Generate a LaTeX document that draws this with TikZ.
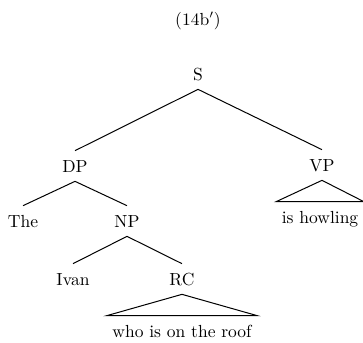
\documentclass[tikz,border=0pt]{standalone}
\usepackage{tikz}
\usetikzlibrary{positioning}

\begin{document}
\begin{tikzpicture}[
	x=0.6pt, y=-0.6pt,
	font=\fontsize{10.5}{12.5}\selectfont,
	% Style cho các nhãn của cây
	cat/.style={anchor=base, text height=7.2pt, text depth=0pt,
		inner xsep=1pt, inner ysep=5.4pt},
	% Style cho các chuỗi lá dưới tam giác
	leaf/.style={cat, text depth=2pt, inner xsep=3.2pt},
	branch/.style={black, line width=0.6pt}
	]
	\useasboundingbox (0,0) rectangle (363,342);
	
	% --- TIÊU ĐỀ ---
	\node[anchor=base] (title) at (198,25) {(14b$'$)};
	
	% --- CÁC NÚT ---
	\node[cat] (S) at (198,80) {S};
	\node[cat] (DP) at (75,172) {DP};
	\node[cat] (VP) at (322,171) {VP};
	\node[cat] (The) at (23,227) {The};
	\node[cat] (NP) at (127,227) {NP};
	\node[leaf] (howl) at (320,223) {is howling};
	\node[cat] (Ivan) at (73,285) {Ivan};
	\node[cat] (RC) at (182,285) {RC};
	\node[leaf] (roof) at (182,337) {who is on the roof};
	
	% --- CÁC NHÁNH ---
	\draw[branch] (S.south) -- (DP.north);
	\draw[branch] (S.south) -- (VP.north);
	\draw[branch] (DP.south) -- (The.north);
	\draw[branch] (DP.south) -- (NP.north);
	\draw[branch] (NP.south) -- (Ivan.north);
	\draw[branch] (NP.south) -- (RC.north);
	
	% --- TAM GIÁC ---
	\draw[branch] (VP.south) -- (howl.north east) -- (howl.north west) -- cycle;
	\draw[branch] (RC.south) -- (roof.north east) -- (roof.north west) -- cycle;
	
\end{tikzpicture}
\end{document}
